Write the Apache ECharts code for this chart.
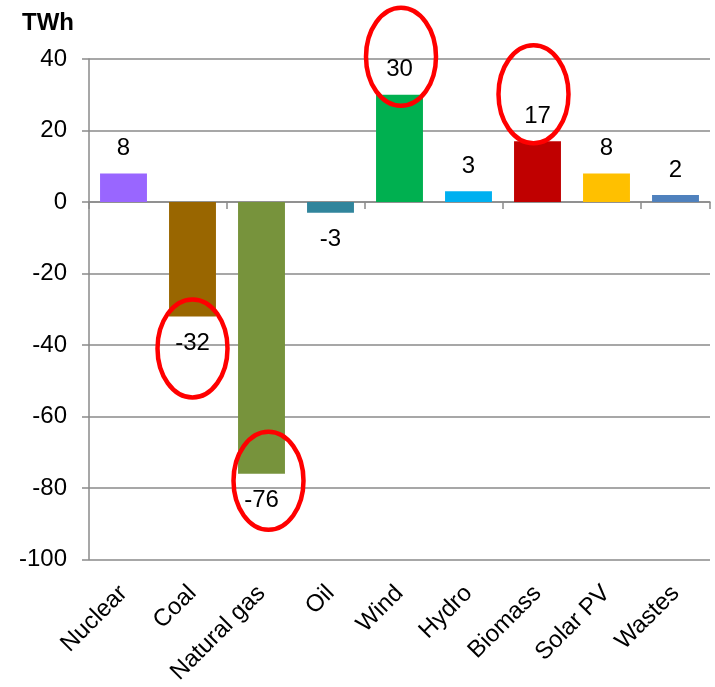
<!DOCTYPE html>
<html>
<head>
<meta charset="utf-8">
<script src="https://cdn.jsdelivr.net/npm/echarts@6/dist/echarts.min.js"></script>
<style>
  html, body { margin: 0; padding: 0; background: #fff; }
  #chart { width: 715px; height: 687px; }
</style>
</head>
<body>
<div id="chart"></div>
<script>
// Change in electricity generation by source, TWh
const categories = ['Nuclear', 'Coal', 'Natural gas', 'Oil', 'Wind', 'Hydro', 'Biomass', 'Solar PV', 'Wastes'];
const values = [8, -32, -76, -3, 30, 3, 17, 8, 2];
const barColors = ['#9966FF', '#996600', '#77933C', '#31859C', '#00B050', '#00B0F0', '#C00000', '#FFC000', '#4F81BD'];
const yTicks = { min: -100, max: 40, interval: 20 };
const highlighted = ['Wind', 'Biomass', 'Coal', 'Natural gas'];

const FONT = '"Liberation Sans", Arial, sans-serif';
const GRID_GRAY = '#8a8a8a';

const chart = echarts.init(document.getElementById('chart'), null, { renderer: 'canvas' });

const seriesData = values.map((v, i) => ({
  value: v,
  itemStyle: { color: barColors[i] },
  label: { position: v >= 0 ? 'top' : 'bottom', distance: v >= 0 ? 13 : 15 }
}));

const unitTitle = {
  type: 'text', left: 22, top: 11,
  style: { text: 'TWh', font: 'bold 24px ' + FONT, fill: '#000' }
};

chart.setOption({
  animation: false,
  backgroundColor: '#ffffff',
  grid: { left: 89, right: 5, top: 59, bottom: 125, containLabel: false },
  xAxis: [{
    type: 'category',
    data: categories,
    axisLine: { onZero: true, lineStyle: { color: GRID_GRAY, width: 1.5 } },
    axisTick: { show: true, length: 7, lineStyle: { color: GRID_GRAY, width: 1.5 } },
    axisLabel: { show: false },
    splitLine: { show: false }
  }, {
    type: 'category',
    data: categories,
    position: 'bottom',
    axisLine: { show: false, onZero: false },
    axisTick: { show: false },
    axisLabel: {
      interval: 0, rotate: 45, margin: 30,
      color: '#000', fontSize: 24, fontFamily: FONT
    }
  }],
  yAxis: {
    type: 'value',
    min: yTicks.min, max: yTicks.max, interval: yTicks.interval,
    axisLine: { show: true, lineStyle: { color: GRID_GRAY, width: 1.5 } },
    axisTick: { show: true, length: 7, lineStyle: { color: GRID_GRAY, width: 1.5 } },
    axisLabel: { color: '#000', fontSize: 24, fontFamily: FONT, margin: 22 },
    splitLine: { show: true, lineStyle: { color: GRID_GRAY, width: 1.5 } }
  },
  series: [{
    type: 'bar',
    xAxisIndex: 0,
    data: seriesData,
    barWidth: '68%',
    label: {
      show: true,
      color: '#000', fontSize: 24, fontFamily: FONT
    }
  }]
});

// Red ellipses drawn around selected value labels, placed relative to each bar's end
const ringOffsets = {
  'Wind': [1.5, -38],
  'Biomass': [-4, -47],
  'Coal': [0, 32],
  'Natural gas': [7, 7]
};
const rings = highlighted.map(name => {
  const i = categories.indexOf(name);
  const p = chart.convertToPixel({ xAxisIndex: 0, yAxisIndex: 0 }, [i, values[i]]);
  const off = ringOffsets[name];
  return {
    type: 'ellipse',
    z: 100,
    shape: { cx: p[0] + off[0], cy: p[1] + off[1], rx: 35, ry: 49 },
    style: { fill: null, stroke: '#FF0000', lineWidth: 4.5 }
  };
});
chart.setOption({ graphic: [unitTitle].concat(rings) });
</script>
</body>
</html>
